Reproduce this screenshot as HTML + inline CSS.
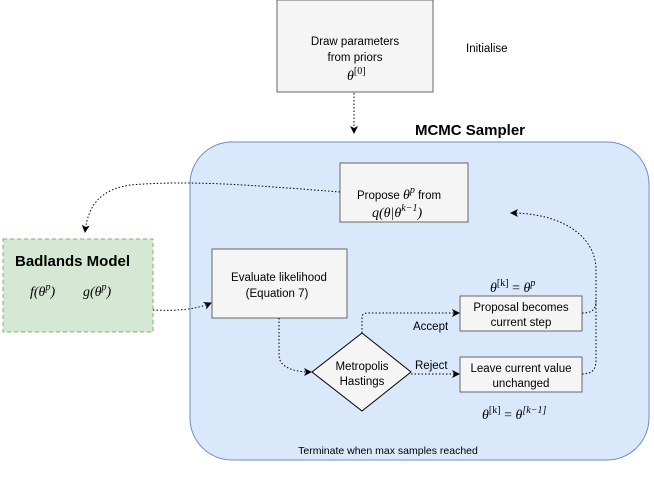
<!DOCTYPE html>
<html><head><meta charset="utf-8"><style>
body{margin:0;background:#fff}
svg text{font-family:"Liberation Sans",sans-serif;font-size:11.5px;fill:#000}
svg text.m{font-family:"Liberation Serif",serif;font-style:italic;font-size:14px}
svg text.b{font-weight:bold;font-size:15px}
</style></head><body>
<svg width="654" height="476" viewBox="0 0 654 476" xmlns="http://www.w3.org/2000/svg">
<defs><marker id="a" markerWidth="8" markerHeight="8" refX="7" refY="4" orient="auto" markerUnits="userSpaceOnUse"><path d="M0,0 L8,4 L0,8 L2,4z" fill="#000"/></marker></defs>
<rect x="190" y="142" width="459" height="318" rx="42" fill="#dae8fc" stroke="#6c8ebf"/>
<rect x="277" y="0" width="156" height="92" fill="#f5f5f5" stroke="#666"/>
<text x="355" y="45" text-anchor="middle">Draw parameters</text>
<text x="355" y="61" text-anchor="middle">from priors</text>
<text x="347" y="80" class="m">θ<tspan style="font-size:10px;font-style:normal" dy="-6">[0]</tspan></text>
<text x="466" y="52">Initialise</text>
<text x="470" y="135" text-anchor="middle" class="b">MCMC Sampler</text>
<path d="M354,93 V133" stroke="#000" stroke-dasharray="1.5,2" fill="none" marker-end="url(#a)"/>
<rect x="340" y="163" width="128" height="59" fill="#f5f5f5" stroke="#666"/>
<text x="357" y="199">Propose <tspan style="font-family:'Liberation Serif',serif;font-style:italic;font-size:14px">θ<tspan style="font-size:10px" dy="-6">p</tspan></tspan><tspan dy="6"> from</tspan></text>
<text x="372" y="217" class="m">q(θ|θ<tspan style="font-size:10px" dy="-6">k−1</tspan><tspan dy="6">)</tspan></text>
<rect x="3" y="239" width="150" height="93" fill="#d5e8d4" stroke="#82b366" stroke-dasharray="4,3"/>
<text x="15" y="266" class="b">Badlands Model</text>
<text x="30" y="296" class="m">f(θ<tspan style="font-size:10px" dy="-6">p</tspan><tspan dy="6">)</tspan></text>
<text x="83" y="296" class="m">g(θ<tspan style="font-size:10px" dy="-6">p</tspan><tspan dy="6">)</tspan></text>
<path d="M340,192 C250,185 190,180 130,185 C100,190 88,205 85,232" stroke="#000" stroke-dasharray="1.5,2" fill="none" marker-end="url(#a)"/>
<rect x="212" y="249" width="135" height="69" fill="#f5f5f5" stroke="#666"/>
<text x="279" y="281" text-anchor="middle">Evaluate likelihood</text>
<text x="277" y="297" text-anchor="middle">(Equation 7)</text>
<path d="M153,310 C175,311 195,310 211,303" stroke="#000" stroke-dasharray="1.5,2" fill="none" marker-end="url(#a)"/>
<path d="M362,333 L411,372 L362,411 L312,372z" fill="#f5f5f5" stroke="#000"/>
<text x="362" y="370" text-anchor="middle">Metropolis</text>
<text x="362" y="385" text-anchor="middle">Hastings</text>
<path d="M279,318 V355 C279,368 295,372 311,372" stroke="#000" stroke-dasharray="1.5,2" fill="none" marker-end="url(#a)"/>
<rect x="460" y="296" width="122" height="35" fill="#f5f5f5" stroke="#666"/>
<text x="521" y="311" text-anchor="middle">Proposal becomes</text>
<text x="521" y="326" text-anchor="middle">current step</text>
<rect x="460" y="357" width="122" height="35" fill="#f5f5f5" stroke="#666"/>
<text x="521" y="372" text-anchor="middle">Leave current value</text>
<text x="521" y="387" text-anchor="middle">unchanged</text>
<text x="490" y="292" class="m">θ<tspan style="font-size:10px;font-style:normal" dy="-6">[k]</tspan><tspan dy="6" style="font-style:normal"> = </tspan>θ<tspan style="font-size:10px" dy="-6">p</tspan></text>
<text x="482" y="419" class="m">θ<tspan style="font-size:10px;font-style:normal" dy="-6">[k]</tspan><tspan dy="6" style="font-style:normal"> = </tspan>θ<tspan style="font-size:10px" dy="-6">[k−1]</tspan></text>
<path d="M362,333 V318 C362,314 364,313 368,313 H459" stroke="#000" stroke-dasharray="1.5,2" fill="none" marker-end="url(#a)"/>
<text x="413" y="330">Accept</text>
<path d="M411,374 H459" stroke="#000" stroke-dasharray="1.5,2" fill="none" marker-end="url(#a)"/>
<text x="415" y="369">Reject</text>
<path d="M582,313 C592,313 596,310 596,300 M582,374 C592,374 596,370 596,360 V270 C596,235 560,213 511,213" stroke="#000" stroke-dasharray="1.5,2" fill="none" marker-end="url(#a)"/>
<text x="388" y="454" text-anchor="middle" style="font-size:10.5px">Terminate when max samples reached</text>
</svg>
</body></html>
